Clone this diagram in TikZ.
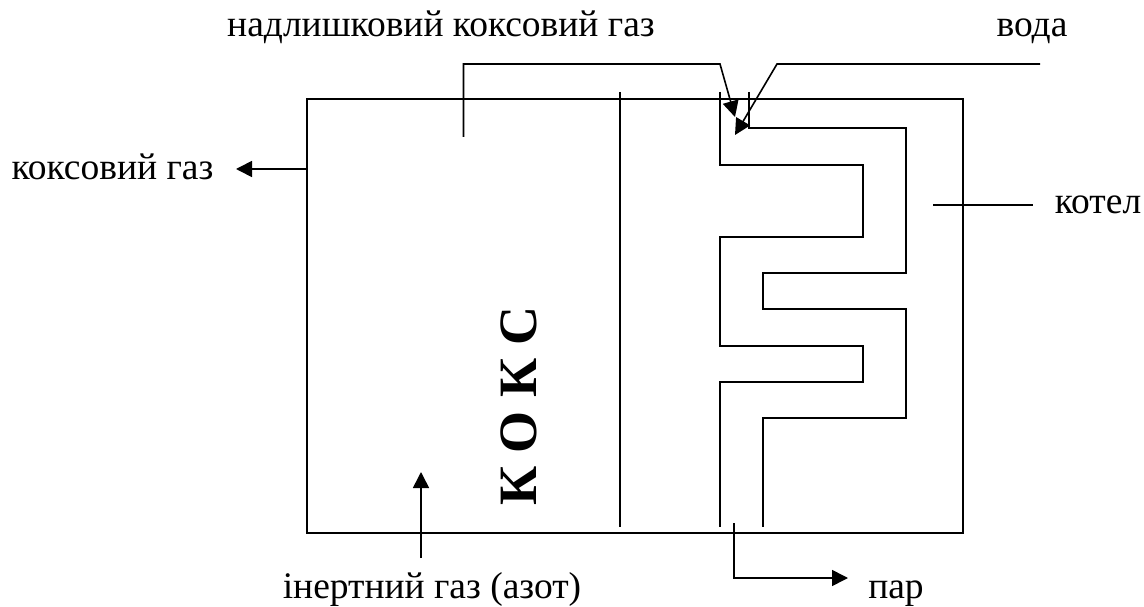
\documentclass[tikz,border=0pt]{standalone}
\usepackage{fontspec}
\setmainfont{Liberation Serif}
\usetikzlibrary{arrows.meta}
\tikzset{
  wall/.style={draw=black, line width=1.5pt},
  coil/.style={draw=black, line width=1.6pt},
  flow/.style={-{Triangle[length=16pt,width=16pt]}, draw=black, line width=1.6pt},
  lead/.style={draw=black, line width=1.6pt},
  lbl/.style={font=\fontsize{37.5}{40}\selectfont, anchor=base, inner sep=0pt},
  vessel/.style={rectangle, wall, minimum width=656pt, minimum height=434pt,
                 inner sep=0pt, outer sep=0pt},
}
\begin{document}
\begin{tikzpicture}[x=1pt,y=-1pt]
  \useasboundingbox (0,0) rectangle (1144,607);

  % vessel and its partition
  \node[vessel] (box) at (635,316){};
  \draw[wall] (620,92) -- (620,527);

  % coil -- outer and inner walls
  \draw[coil] (720,92) -- (720,165) -- (863,165) -- (863,237) -- (720,237)
     -- (720,346) -- (863,346) -- (863,382) -- (720,382) -- (720,527);
  \draw[coil] (749,92) -- (749,128) -- (906,128) -- (906,273) -- (763,273)
     -- (763,309) -- (906,309) -- (906,418) -- (763,418) -- (763,527);

  % labels
  \node[lbl] (excess) at (441,37){надлишковий коксовий газ};
  \node[lbl] (water) at (1032,37){вода};
  \node[lbl] (cokegas) at (112.5,180){коксовий газ};
  \node[lbl] (boiler) at (1098,214){котел};
  \node[lbl] (inert) at (432,598){інертний газ (азот)};
  \node[lbl] (steam) at (896,598){пар};
  \node[font=\fontsize{54}{54}\selectfont\bfseries, rotate=90, inner sep=0pt] (coke)
     at (519,406){К О К С};

  % free ends of the connectors
  \coordinate (gasin) at (463.5,137);
  \coordinate (gastip) at (735,117);
  \coordinate (waterin) at (1040,64);
  \coordinate (watertip) at (735,135);
  \coordinate (gasout) at (307,169);
  \coordinate (gasouttip) at (236,169);
  \coordinate (boilerin) at (933,205);
  \coordinate (boilerout) at (1033,205);
  \coordinate (inertin) at (421,558);
  \coordinate (inerttip) at (421,472);
  \coordinate (steamin) at (734,523);
  \coordinate (steamtip) at (848,578);

  % connectors
  \draw[flow] (gasin) -- (463.5,64) -- (720,64) -- (gastip);
  \draw[flow] (waterin) -- (777,64) -- (watertip);
  \draw[flow] (gasout) -- (gasouttip);
  \draw[lead] (boilerin) -- (boilerout);
  \draw[flow] (inertin) -- (inerttip);
  \draw[flow] (steamin) |- (steamtip);
\end{tikzpicture}
\end{document}
